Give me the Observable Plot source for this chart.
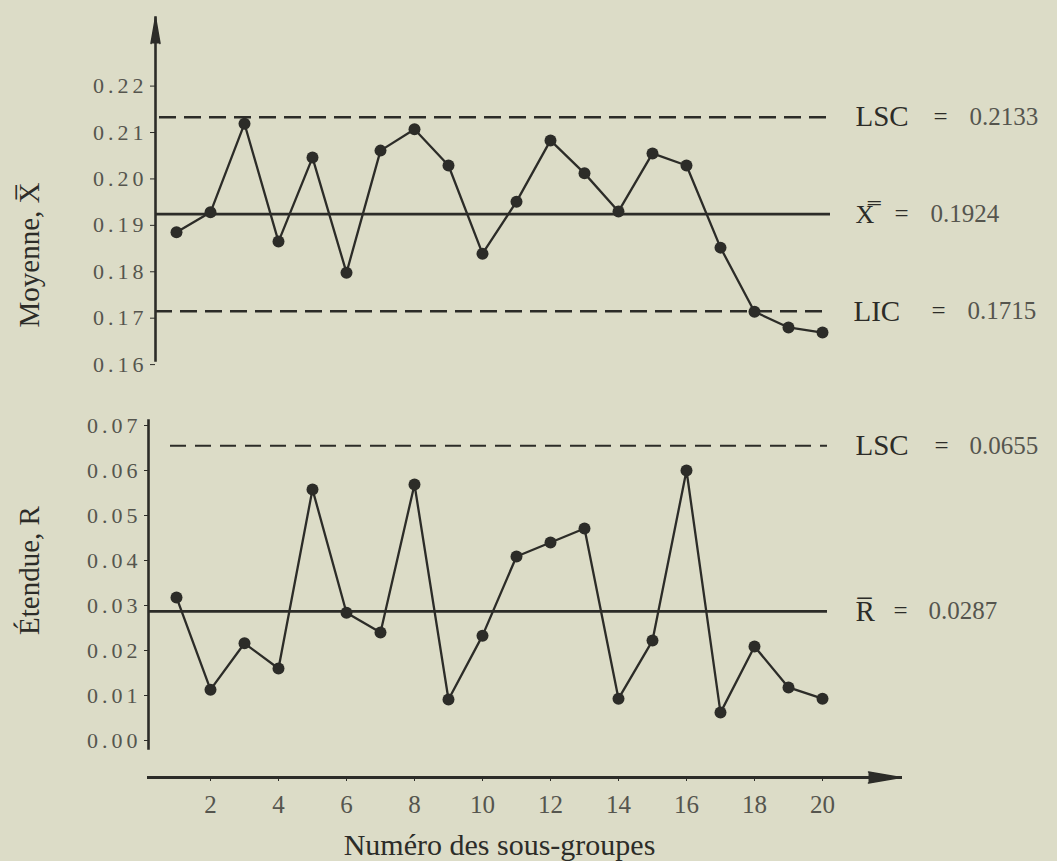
<!DOCTYPE html>
<html><head><meta charset="utf-8">
<script src="https://cdn.jsdelivr.net/npm/d3@7"></script>
<script src="https://cdn.jsdelivr.net/npm/@observablehq/plot@0.6"></script>
<style>
html,body{margin:0;padding:0;background:#dcdcc7;}
#chart{width:1057px;height:861px;background:#dcdcc7;overflow:hidden;}
#chart svg{display:block;overflow:visible;}
#chart [aria-label="y-axis tick label"]{letter-spacing:4px;}
#chart [aria-label="limit value"]{letter-spacing:3.5px;}
#chart [aria-label="double bar"]{font-family:'DejaVu Serif',serif;}
</style></head>
<body><div id="chart"></div>
<script>
// ---- data ----
const subgroups = [1,2,3,4,5,6,7,8,9,10,11,12,13,14,15,16,17,18,19,20];
const means  = [0.1885,0.1928,0.2119,0.1865,0.2046,0.1798,0.2061,0.2107,0.2029,0.1839,
                0.1951,0.2083,0.2012,0.1930,0.2055,0.2029,0.1852,0.1714,0.1680,0.1669];
const ranges = [0.0318,0.0113,0.0216,0.0160,0.0558,0.0284,0.0240,0.0569,0.0091,0.0233,
                0.0409,0.0440,0.0471,0.0093,0.0222,0.0600,0.0062,0.0209,0.0118,0.0093];
const meanTicks  = [0.16,0.17,0.18,0.19,0.20,0.21,0.22];
const rangeTicks = [0.00,0.01,0.02,0.03,0.04,0.05,0.06,0.07];
const xTicks = [2,4,6,8,10,12,14,16,18,20];
const meanLimitNames  = ["LSC","X\u033F","LIC"];
const meanLimitValues = [0.2133,0.1924,0.1715];
const rangeLimitNames  = ["LSC","R\u0305"];
const rangeLimitValues = [0.0655,0.0287];
const meanLabel  = "Moyenne, X\u0305";
const rangeLabel = "Étendue, R";
const xLabel = "Numéro des sous-groupes";

// ---- style ----
const INK = "#2c2c28", TICK = "#55554e", BG = "transparent";
const FONT = "'Liberation Serif','DejaVu Serif',serif";
const xScale = {domain:[1,20], range:[176,822], axis:null};
const lastX = subgroups[subgroups.length-1];

function limitMarks(names, values, layout) {
  const marks = [];
  names.forEach((n, i) => {
    const L = layout[i];
    const isDouble = n.includes("\u033F");
    marks.push(Plot.text([n], {x: () => lastX, y: () => values[i], text: d => d, dx: L[0], textAnchor:"start",
      fontSize: isDouble ? 26 : 29, fill:INK, ariaLabel: isDouble ? "double bar" : "limit name"}));
    marks.push(Plot.text(["="], {x: () => lastX, y: () => values[i], text: d => d, dx: L[1], textAnchor:"middle", fontSize:25, fill:INK}));
    marks.push(Plot.text([values[i]], {x: () => lastX, y: d => d, text: d => d.toFixed(4), dx: L[2], textAnchor:"start", fontSize:25, fill:TICK, ariaLabel:"limit value"}));
  });
  return marks;
}

const styleObj = {fontFamily: FONT, background: BG, color: INK};

// ---- top chart: means ----
const topPlot = Plot.plot({
  width:1057, height:380, marginLeft:155, marginRight:227, marginTop:17, marginBottom:20,
  style: styleObj,
  x: xScale,
  y: {domain:[0.16,0.22], range:[364.1,85.6]},
  marks: [
    Plot.frame({anchor:"left", stroke:INK, strokeWidth:2.6}),
    Plot.vector([0], {frameAnchor:"top-left", length:26, r:4.5, shape:"spike", anchor:"end", fill:INK, stroke:INK}),
    Plot.axisY({ticks:meanTicks, tickFormat:d=>d.toFixed(2), tickSize:5, tickPadding:3, fontSize:22, fill:TICK, stroke:INK, label:null}),
    Plot.ruleY([meanLimitValues[0]], {stroke:INK, strokeWidth:2.4, strokeDasharray:"17,8", insetLeft:4}),
    Plot.ruleY([meanLimitValues[1]], {stroke:INK, strokeWidth:2.8}),
    Plot.ruleY([meanLimitValues[2]], {stroke:INK, strokeWidth:2.4, strokeDasharray:"17,8"}),
    Plot.line(subgroups, {x:d=>d, y:(d,i)=>means[i], stroke:INK, strokeWidth:2.3}),
    Plot.dot(subgroups, {x:d=>d, y:(d,i)=>means[i], r:6, fill:INK, stroke:"none"}),
    Plot.text([meanLabel], {frameAnchor:"left", text:d=>d, rotate:-90, textAnchor:"middle", lineAnchor:"middle", dx:-126, dy:66, fontSize:29, fill:INK}),
    ...limitMarks(meanLimitNames, meanLimitValues, [[33,118,147],[33,79,108],[31,116,145]])
  ]
});

// ---- bottom chart: ranges ----
const botPlot = Plot.plot({
  width:1057, height:380, marginLeft:148, marginRight:230, marginTop:40, marginBottom:12,
  style: styleObj,
  x: xScale,
  y: {domain:[0,0.07], range:[360,45]},
  marks: [
    Plot.frame({anchor:"left", stroke:INK, strokeWidth:2.6}),
    Plot.axisY({ticks:rangeTicks, tickFormat:d=>d.toFixed(2), tickSize:4, tickPadding:3, fontSize:22, fill:TICK, stroke:INK, label:null}),
    Plot.ruleY([rangeLimitValues[0]], {stroke:INK, strokeWidth:2.2, strokeDasharray:"16,9", insetLeft:22}),
    Plot.ruleY([rangeLimitValues[1]], {stroke:INK, strokeWidth:2.6}),
    Plot.line(subgroups, {x:d=>d, y:(d,i)=>ranges[i], stroke:INK, strokeWidth:2.3}),
    Plot.dot(subgroups, {x:d=>d, y:(d,i)=>ranges[i], r:6, fill:INK, stroke:"none"}),
    Plot.text([rangeLabel], {frameAnchor:"left", text:d=>d, rotate:-90, textAnchor:"middle", lineAnchor:"middle", dx:-119, dy:-14, fontSize:29, fill:INK}),
    ...limitMarks(rangeLimitNames, rangeLimitValues, [[33,119,147],[33,78,106]])
  ]
});

// ---- x axis ----
const axisPlot = Plot.plot({
  width:1057, height:101, marginLeft:148, marginRight:157, marginTop:0, marginBottom:84,
  style: styleObj,
  x: {domain:[1,20], range:[176,822]},
  marks: [
    Plot.frame({anchor:"bottom", stroke:INK, strokeWidth:3}),
    Plot.vector([0], {frameAnchor:"bottom-right", length:32, r:5.5, rotate:90, shape:"spike", anchor:"end", fill:INK, stroke:INK}),
    Plot.axisX({ticks:xTicks, tickFormat:d=>String(d), tickSize:4, tickPadding:14, fontSize:25, fill:TICK, stroke:INK, label:null}),
    Plot.text([xLabel], {x: () => (subgroups[0] + lastX) / 2, frameAnchor:"bottom", text:d=>d, lineAnchor:"middle", dy:68, fontSize:30, fill:INK})
  ]
});

const root = document.getElementById("chart");
root.append(topPlot, botPlot, axisPlot);
</script>
</body></html>
